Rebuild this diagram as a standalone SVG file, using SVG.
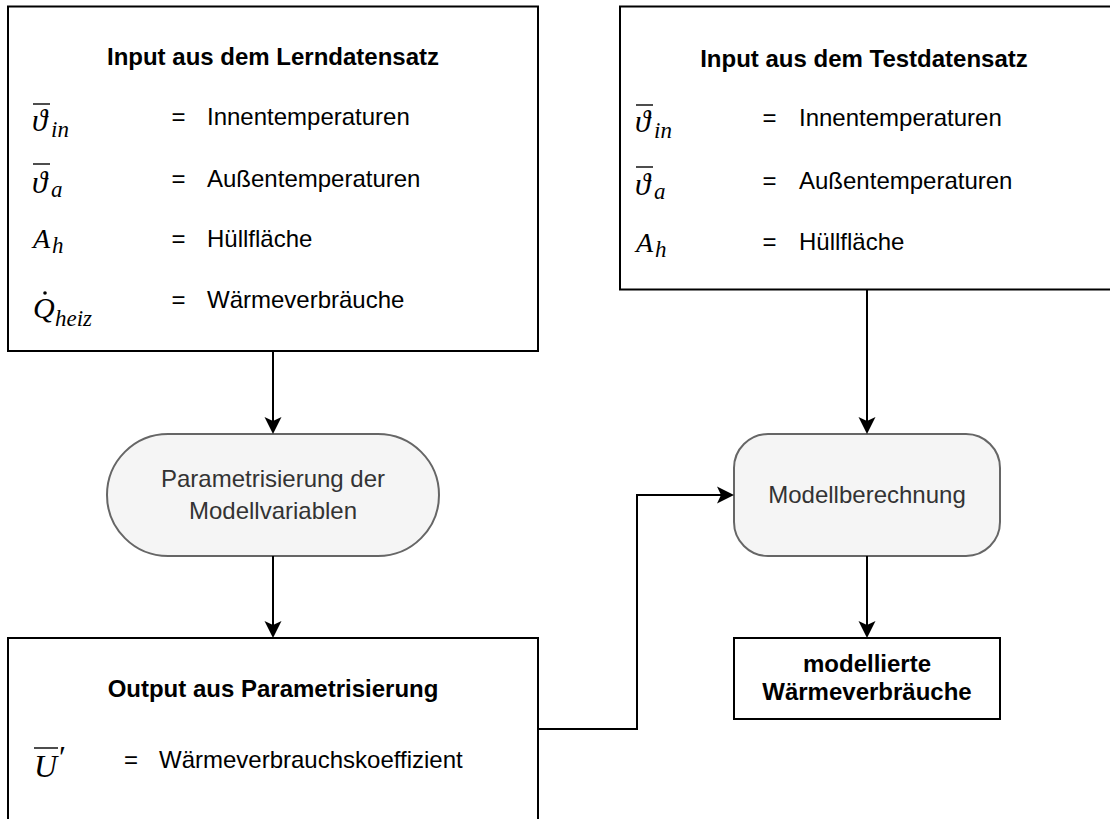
<svg xmlns="http://www.w3.org/2000/svg" width="1110" height="819" viewBox="0 0 1110 819">
  <style>
    .box { fill: #ffffff; stroke: #000000; stroke-width: 2; }
    .proc { fill: #f5f5f5; stroke: #666666; stroke-width: 2; }
    .t { font-family: "Liberation Sans", Arial, sans-serif; font-size: 24px; fill: #000000; }
    .b { font-weight: bold; }
    .c { text-anchor: middle; }
    .g { fill: #333333; }
    .m { font-family: "Liberation Serif", "DejaVu Serif", serif; font-style: italic; font-size: 28px; fill: #000000; }
    .th { font-size: 31px; }
    .s { font-family: "Liberation Serif", "DejaVu Serif", serif; font-style: italic; font-size: 23px; fill: #000000; }
    .bar { stroke: #000000; stroke-width: 1.4; }
    .edge { fill: none; stroke: #000000; stroke-width: 2; marker-end: url(#arrow); }
  </style>
  <defs>
    <marker id="arrow" markerUnits="userSpaceOnUse" markerWidth="20" markerHeight="20" viewBox="-6 -10 20 20" refX="0" refY="0" orient="auto">
      <path d="M12,0 L-5,-8.5 L-1,0 L-5,8.5 Z" fill="#000000"/>
    </marker>
  </defs>

  <rect width="1110" height="819" fill="#ffffff"/>

  <!-- training input -->
  <g id="input-lern">
    <rect class="box" x="8" y="6.5" width="530" height="344.5"/>
    <text class="t b c" x="273" y="65">Input aus dem Lerndatensatz</text>
    <line class="bar" x1="33" y1="104" x2="50" y2="104"/>
    <text class="m th" x="32" y="131">ϑ</text>
    <text class="s" x="51" y="137">in</text>
    <text class="t c" x="178.5" y="125">=</text>
    <text class="t" x="207" y="125">Innentemperaturen</text>
    <line class="bar" x1="33" y1="164" x2="50" y2="164"/>
    <text class="m th" x="32" y="193">ϑ</text>
    <text class="s" x="51" y="197">a</text>
    <text class="t c" x="178.5" y="187">=</text>
    <text class="t" x="207" y="187">Außentemperaturen</text>
    <text class="m" x="33" y="248">A</text>
    <text class="s" x="52" y="253">h</text>
    <text class="t c" x="178.5" y="247">=</text>
    <text class="t" x="207" y="247">Hüllfläche</text>
    <circle cx="45" cy="293" r="1.8" fill="#000000"/>
    <text class="m" x="33" y="318" style="font-size:30px">Q</text>
    <text class="s" x="55" y="326">heiz</text>
    <text class="t c" x="178.5" y="308">=</text>
    <text class="t" x="207" y="308">Wärmeverbräuche</text>
  </g>

  <!-- test input -->
  <g id="input-test">
    <rect class="box" x="620" y="6.5" width="500" height="283"/>
    <text class="t b c" x="864" y="67">Input aus dem Testdatensatz</text>
    <line class="bar" x1="636" y1="105" x2="653" y2="105"/>
    <text class="m th" x="635" y="132">ϑ</text>
    <text class="s" x="654" y="138">in</text>
    <text class="t c" x="769.5" y="126">=</text>
    <text class="t" x="799" y="126">Innentemperaturen</text>
    <line class="bar" x1="636" y1="167" x2="653" y2="167"/>
    <text class="m th" x="635" y="195">ϑ</text>
    <text class="s" x="654" y="199">a</text>
    <text class="t c" x="769.5" y="189">=</text>
    <text class="t" x="799" y="189">Außentemperaturen</text>
    <text class="m" x="636" y="252">A</text>
    <text class="s" x="655" y="257">h</text>
    <text class="t c" x="769.5" y="250">=</text>
    <text class="t" x="799" y="250">Hüllfläche</text>
  </g>

  <!-- parametrisation step -->
  <g id="parametrisierung">
    <rect class="proc" x="107" y="434" width="332" height="122" rx="61" ry="61"/>
    <text class="t c g" x="273" y="487">Parametrisierung der</text>
    <text class="t c g" x="273" y="519">Modellvariablen</text>
  </g>

  <!-- model computation step -->
  <g id="modellberechnung">
    <rect class="proc" x="734" y="434" width="266" height="122" rx="34" ry="34"/>
    <text class="t c g" x="867" y="503">Modellberechnung</text>
  </g>

  <!-- parametrisation output -->
  <g id="output-param">
    <rect class="box" x="8" y="638" width="530" height="200"/>
    <text class="t b c" x="273" y="697">Output aus Parametrisierung</text>
    <line class="bar" x1="34" y1="748" x2="58" y2="748"/>
    <text class="m" x="34" y="777" style="font-size:32px">U</text>
    <text class="m" x="57" y="768" style="font-size:32px">′</text>
    <text class="t c" x="131" y="768">=</text>
    <text class="t" x="159" y="768">Wärmeverbrauchskoeffizient</text>
  </g>

  <!-- modelled consumption -->
  <g id="ergebnis">
    <rect class="box" x="734" y="638" width="266" height="81"/>
    <text class="t b c" x="867" y="672">modellierte</text>
    <text class="t b c" x="867" y="700">Wärmeverbräuche</text>
  </g>

  <g id="connectors">
    <path class="edge" d="M273,351 V422"/>
    <path class="edge" d="M273,556 V626"/>
    <path class="edge" d="M867,290 V422"/>
    <path class="edge" d="M867,556 V626"/>
    <path class="edge" d="M538,729 H637 V495 H722"/>
  </g>
</svg>
